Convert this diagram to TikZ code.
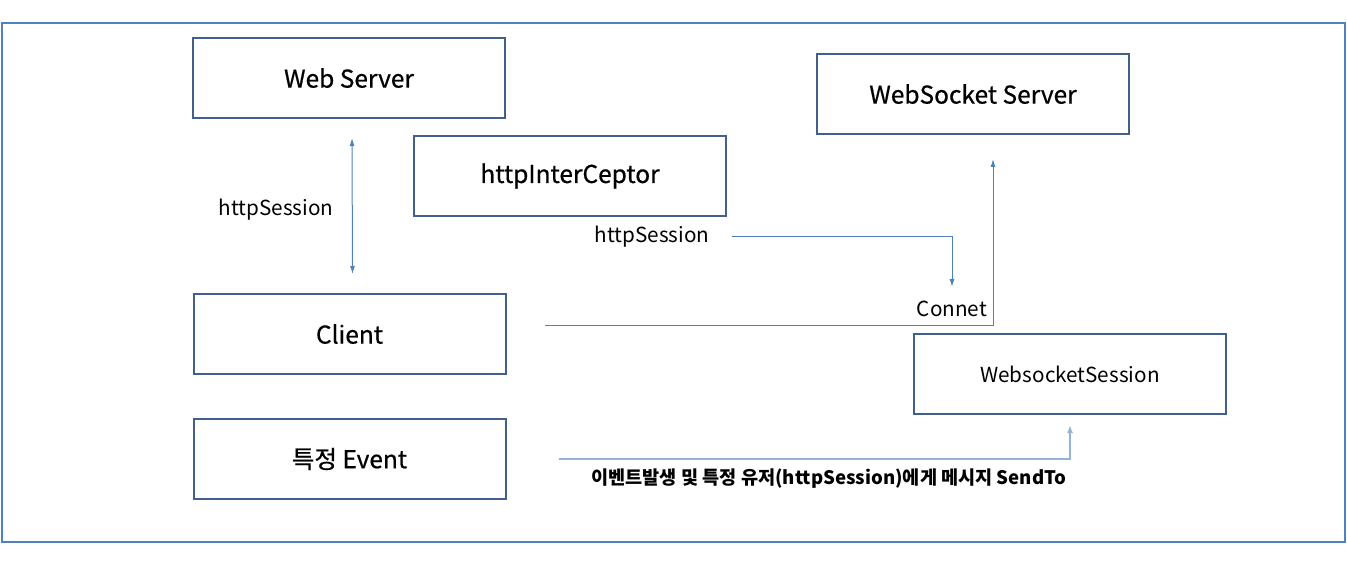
\documentclass[tikz,border=0pt]{standalone}
\usepackage{fontspec}
\setmainfont{Noto Sans CJK KR}
\newfontfamily\titlefont[FakeBold=0.6]{Noto Sans CJK KR}
\usetikzlibrary{arrows.meta}

\definecolor{boxline}{HTML}{41618C}
\definecolor{linkblue}{HTML}{4F81BD}
\definecolor{lightlink}{HTML}{95B3D7}

\begin{document}
\begin{tikzpicture}[x=1pt,y=1pt,
  box/.style={draw=boxline,line width=2pt,minimum width=312pt,minimum height=80pt,
    inner sep=0pt,font=\titlefont\fontsize{24.5}{28}\selectfont},
  lbl/.style={inner sep=0pt,font=\fontsize{20.7}{24}\selectfont},
  link/.style={draw=linkblue,line width=1pt,-{Latex[length=8pt,width=5pt]}}]
  \useasboundingbox (0,0) rectangle (1347,-564);
  % frame
  \draw[linkblue,line width=2pt] (2,-23) rectangle (1345,-542);
  % boxes
  \node[box] (web) at (349,-78) {Web Server};
  \node[box] (inter) at (570,-176) {httpInterCeptor};
  \node[box] (wss) at (973,-94) {WebSocket Server};
  \node[box] (client) at (349.5,-334) {Client};
  \node[box] (event) at (349.5,-459) {특정 Event};
  \node[box,font=\fontsize{20.7}{24}\selectfont] (wsess) at (1070,-374) {WebsocketSession};
  % labels
  \node[lbl] (hs1) at (276,-210) {httpSession};
  \node[lbl] (hs2) at (652,-237) {httpSession};
  \node[lbl] (connet) at (952,-309) {Connet};
  \node[lbl,font=\bfseries\fontsize{18.6}{22}\selectfont] (send) at (829,-479)
    {이벤트발생 및 특정 유저(httpSession)에게 메시지 SendTo};
  % connectors
  \draw[link,{Latex[length=8pt,width=5pt]}-{Latex[length=8pt,width=5pt]}]
    ([xshift=3pt,yshift=-19pt]web.south) -- ([xshift=3pt,yshift=19pt]client.north);
  \draw[link] ([xshift=22pt]hs2.east) -| ([yshift=14pt]connet.north);
  \draw[link] ([xshift=38pt,yshift=9pt]client.east) -| ([xshift=20pt,yshift=-24pt]wss.south);
  \draw[link,draw=lightlink,line width=2pt,-{Latex[length=8pt,width=6pt,fill=linkblue]}]
    ([xshift=52pt]event.east) -| ([yshift=-10pt]wsess.south);
\end{tikzpicture}
\end{document}
